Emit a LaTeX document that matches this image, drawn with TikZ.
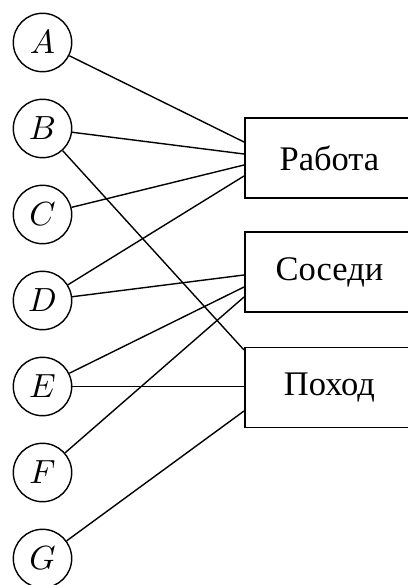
\documentclass[tikz,border=0pt]{standalone}
\usepackage{graphicx}
\usepackage{fontspec}
\newfontfamily\boxfont{Liberation Serif}
\newcommand{\vlab}[1]{\scalebox{3.35}{$#1$}}
\begin{document}
\begin{tikzpicture}[x=1pt,y=-1pt,
  vert/.style={circle,draw,line width=1.4pt,minimum size=58.4pt,inner sep=0pt},
  grp/.style={rectangle,draw,line width=1.9pt,minimum width=169pt,minimum height=80pt,inner sep=0pt,anchor=west,font=\boxfont\fontsize{34.5}{40}\selectfont},
  edge/.style={line width=1.4pt}]
\useasboundingbox (0,0) rectangle (407,585);
\node[vert] (A) at (42.5,42.5) {\vlab{A}};
\node[vert] (B) at (42.5,128.5) {\vlab{B}};
\node[vert] (C) at (42.5,214.5) {\vlab{C}};
\node[vert] (D) at (42.5,300.5) {\vlab{D}};
\node[vert] (E) at (42.5,386.5) {\vlab{E}};
\node[vert] (F) at (42.5,472.5) {\vlab{F}};
\node[vert] (G) at (42.5,558.5) {\vlab{G}};
\node[grp] (work) at (244,158) {Работа};
\node[grp] (neigh) at (244,272) {Соседи};
\node[grp] (hike) at (244,387.5) {Поход};
\draw[edge] (A) -- ([yshift=16pt]work.west);
\draw[edge] (B) -- ([yshift=4pt]work.west);
\draw[edge] (C) -- ([yshift=-7pt]work.west);
\draw[edge] (D) -- ([yshift=-18pt]work.west);
\draw[edge] (D) -- ([yshift=-3pt]neigh.west);
\draw[edge] (E) -- ([yshift=-15pt]neigh.west);
\draw[edge] (F) -- ([yshift=-25pt]neigh.west);
\draw[edge] (B) -- ([yshift=37.5pt]hike.west);
\draw[edge] (E) -- ([yshift=1pt]hike.west);
\draw[edge] (G) -- ([yshift=-23.5pt]hike.west);
\end{tikzpicture}
\end{document}
